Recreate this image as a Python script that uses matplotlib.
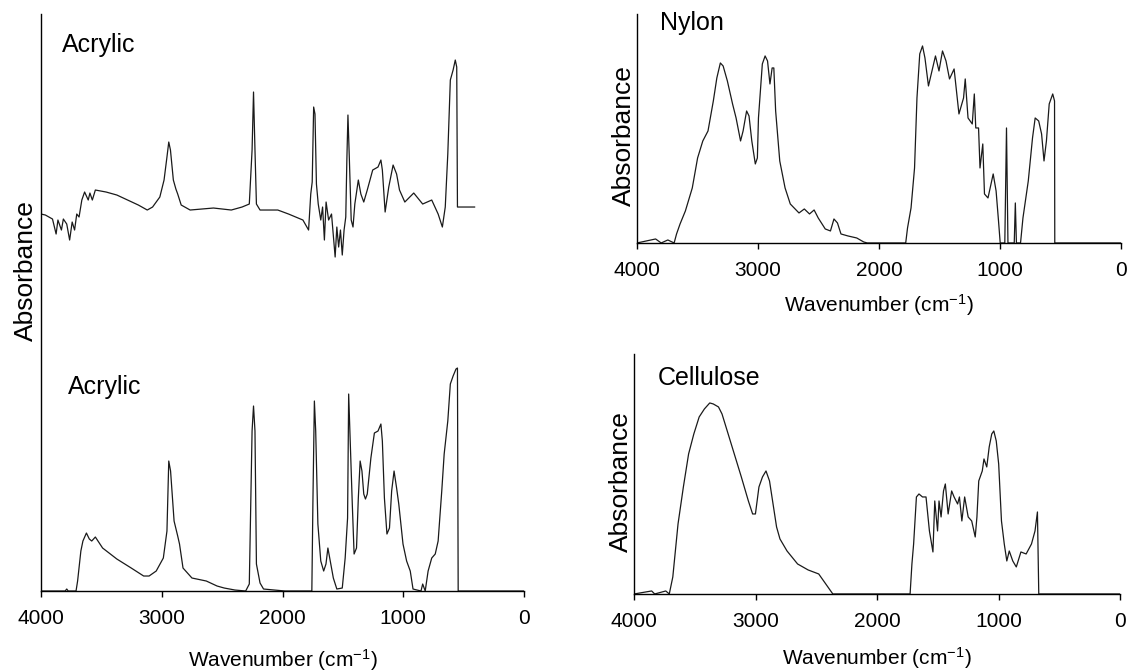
import matplotlib
matplotlib.use('Agg')
import matplotlib.pyplot as plt

plt.rcParams['font.family'] = ['Liberation Sans', 'DejaVu Sans']
plt.rcParams['mathtext.fontset'] = 'custom'
plt.rcParams['mathtext.rm'] = 'Liberation Sans'
plt.rcParams['mathtext.it'] = 'Liberation Sans:italic'

# Acrylic (upper trace, shown offset above the lower one) - absorbance in arbitrary units
acr1_wn = [4000, 3964, 3905, 3875, 3860, 3831, 3815, 3787, 3763, 3742, 3722, 3704, 3685,
           3662, 3639, 3609, 3595, 3575, 3550, 3461, 3372, 3283, 3194, 3120, 3076, 3016,
           2981, 2957, 2942, 2928, 2904, 2883, 2868, 2839, 2765, 2572, 2424, 2335, 2275,
           2252, 2240, 2228, 2216, 2186, 2039, 1950, 1831, 1784, 1766, 1754, 1742, 1731,
           1719, 1704, 1683, 1668, 1653, 1639, 1618, 1594, 1564, 1550, 1535, 1520, 1505,
           1490, 1476, 1467, 1458, 1446, 1431, 1416, 1401, 1372, 1351, 1327, 1298, 1253,
           1209, 1185, 1173, 1150, 1120, 1084, 1055, 1031, 987, 913, 839, 764, 711, 676,
           652, 631, 610, 587, 569, 557, 551, 409]
acr1_ab = [-7, -8, -12, -27, -13, -23, -12, -17, -33, -15, -23, -7, -10,
           7, 15, 7, 14, 7, 17, 15, 12, 7, 2, -3, 0, 10,
           27, 50, 65, 57, 27, 18, 13, 2, -3, -1, -3, 0, 3,
           57, 115, 57, 3, -3, -3, -7, -13, -23, 13, 25, 100, 93,
           23, 3, -13, 0, -33, 5, -13, -7, -50, -20, -40, -23, -48,
           -23, -10, 47, 92, 47, -13, -20, 3, 27, 13, 5, 17, 37,
           40, 47, 37, -5, 20, 42, 33, 17, 5, 14, 3, 7, -7, -20,
           0, 53, 127, 137, 147, 140, 0, 0]
acr1_offset = 384

# Acrylic (lower trace)
acr2_wn = [4000, 3800, 3787, 3775, 3710, 3697, 3670, 3653, 3624, 3600, 3580, 3550, 3490,
           3372, 3253, 3150, 3105, 3046, 2987, 2957, 2942, 2927, 2898, 2868, 2853, 2824,
           2750, 2631, 2542, 2483, 2394, 2305, 2275, 2252, 2240, 2228, 2216, 2186, 2157,
           1979, 1757, 1748, 1736, 1725, 1707, 1683, 1659, 1640, 1624, 1600, 1579, 1550,
           1505, 1481, 1461, 1452, 1440, 1422, 1407, 1387, 1372, 1357, 1342, 1327, 1313,
           1298, 1268, 1239, 1209, 1185, 1173, 1156, 1135, 1114, 1096, 1076, 1055, 1037,
           1002, 972, 942, 919, 853, 839, 818, 794, 764, 735, 711, 681, 661, 631, 610,
           587, 563, 551, 545, 0]
acr2_ab = [0, 0, 2, 0, 0, 10, 40, 50, 58, 52, 50, 54, 43,
           32, 23, 15, 15, 20, 33, 60, 130, 120, 70, 55, 47, 23,
           13, 10, 5, 3, 1, 0, 7, 160, 185, 160, 27, 8, 2,
           0, 0, 90, 190, 160, 67, 30, 20, 27, 43, 27, 13, 2,
           3, 33, 73, 197, 153, 87, 37, 43, 93, 130, 120, 97, 92,
           97, 133, 158, 160, 167, 150, 93, 57, 63, 100, 120, 103, 87,
           47, 30, 20, 2, 0, 7, 0, 20, 33, 37, 50, 100, 137, 170, 207,
           215, 222, 223, 0, 0]

# Nylon
nyl_wn = [4000, 3846, 3800, 3745, 3693, 3673, 3644, 3600, 3543, 3499, 3456, 3413, 3369,
          3340, 3311, 3288, 3253, 3210, 3181, 3144, 3123, 3094, 3074, 3051, 3022, 3005,
          2996, 2964, 2941, 2921, 2901, 2883, 2869, 2854, 2820, 2776, 2733, 2661, 2617,
          2574, 2536, 2502, 2444, 2401, 2372, 2343, 2314, 2256, 2184, 2126, 2097, 1779,
          1764, 1735, 1706, 1686, 1663, 1640, 1620, 1591, 1562, 1533, 1504, 1475, 1446,
          1417, 1379, 1339, 1301, 1287, 1264, 1229, 1212, 1200, 1177, 1165, 1142, 1128,
          1099, 1056, 1032, 1012, 998, 960, 946, 934, 882, 873, 864, 830, 810, 766, 731,
          709, 680, 656, 636, 616, 593, 564, 549, 547, 0]
nyl_ab = [0, 4, 0, 3, 0, 9, 19, 32, 55, 85, 102, 112, 142,
          165, 180, 177, 162, 139, 125, 102, 112, 132, 127, 102, 79, 85,
          125, 179, 187, 182, 159, 175, 175, 132, 82, 55, 39, 30, 34,
          29, 33, 25, 14, 12, 24, 20, 9, 7, 5, 1, 0, 0,
          15, 35, 75, 145, 189, 197, 185, 157, 172, 187, 172, 192, 182,
          164, 174, 129, 145, 164, 125, 119, 149, 115, 115, 75, 99, 49,
          45, 69, 52, 22, 0, 0, 115, 0, 0, 40, 0, 0, 25, 62, 105,
          125, 122, 109, 82, 102, 139, 149, 142, 0, 0]

# Cellulose
cel_wn = [4000, 3855, 3830, 3739, 3710, 3681, 3638, 3594, 3551, 3508, 3464, 3421, 3377,
          3348, 3305, 3276, 3233, 3175, 3117, 3059, 3024, 3001, 2972, 2943, 2914, 2885,
          2856, 2827, 2799, 2741, 2654, 2567, 2480, 2422, 2364, 1728, 1713, 1699, 1676,
          1655, 1626, 1597, 1569, 1540, 1525, 1502, 1490, 1473, 1453, 1438, 1415, 1386,
          1366, 1337, 1322, 1302, 1279, 1250, 1221, 1192, 1178, 1163, 1134, 1120, 1097,
          1077, 1056, 1039, 1019, 999, 976, 953, 932, 912, 883, 854, 816, 773, 729, 700,
          680, 669, 0]
cel_ab = [0, 3, 0, 3, 0, 17, 70, 107, 140, 160, 177, 185, 191,
          190, 187, 180, 163, 140, 117, 93, 80, 80, 107, 117, 123, 113,
          90, 67, 55, 43, 30, 24, 20, 10, 0, 0, 30, 50, 97,
          100, 97, 97, 63, 42, 93, 63, 93, 77, 103, 110, 80, 103,
          97, 90, 97, 73, 97, 77, 73, 57, 77, 113, 123, 135, 127,
          147, 160, 163, 153, 130, 73, 50, 33, 43, 33, 27, 42, 40, 50, 63,
          82, 0, 0]

xticks = [4000, 3000, 2000, 1000, 0]
xlabel = 'Wavenumber (cm$^{-1}$)'
line_kw = dict(color='#1a1a1a', lw=0.9)

fig = plt.figure(figsize=(11.3, 6.71), dpi=100)
ax_l = fig.add_axes([0.0363, 0.1192, 0.4274, 0.8599])
ax_n = fig.add_axes([0.5637, 0.6379, 0.4283, 0.3413])
ax_c = fig.add_axes([0.5611, 0.1148, 0.4301, 0.3577])


def style(ax, ymax):
    ax.set_xlim(4000, 0)
    ax.set_ylim(0, ymax)
    for s in ('top', 'right'):
        ax.spines[s].set_visible(False)
    ax.spines['left'].set_linewidth(1.0)
    ax.spines['bottom'].set_linewidth(1.0)
    ax.set_yticks([])
    ax.set_xticks(xticks)
    ax.set_xticklabels([str(t) for t in xticks])
    ax.tick_params(axis='x', direction='out', length=4, width=1.0, pad=9, labelsize=15)


# left panel: both acrylic traces in one frame
ax_l.plot(acr1_wn, [v + acr1_offset for v in acr1_ab], **line_kw)
ax_l.plot(acr2_wn, acr2_ab, **line_kw)
style(ax_l, 577)
ax_l.text(0.043, 0.946, 'Acrylic', transform=ax_l.transAxes, fontsize=18, va='center', ha='left')
ax_l.text(0.056, 0.354, 'Acrylic', transform=ax_l.transAxes, fontsize=18, va='center', ha='left')
ax_l.set_ylabel('Absorbance', fontsize=19, va='center')
ax_l.yaxis.set_label_coords(-0.031, 0.556)
ax_l.set_xlabel(xlabel, fontsize=15, va='center')
ax_l.xaxis.set_label_coords(0.5, -0.12)

ax_n.plot(nyl_wn, nyl_ab, **line_kw)
style(ax_n, 229)
ax_n.text(0.048, 0.96, 'Nylon', transform=ax_n.transAxes, fontsize=18, va='center', ha='left')
ax_n.set_ylabel('Absorbance', fontsize=19, va='center')
ax_n.yaxis.set_label_coords(-0.027, 0.47)
ax_n.set_xlabel(xlabel, fontsize=15, va='center')
ax_n.xaxis.set_label_coords(0.5, -0.27)

ax_c.plot(cel_wn, cel_ab, **line_kw)
style(ax_c, 240)
ax_c.text(0.049, 0.90, 'Cellulose', transform=ax_c.transAxes, fontsize=18, va='center', ha='left')
ax_c.set_ylabel('Absorbance', fontsize=19, va='center')
ax_c.yaxis.set_label_coords(-0.027, 0.467)
ax_c.set_xlabel(xlabel, fontsize=15, va='center')
ax_c.xaxis.set_label_coords(0.5, -0.267)

fig.savefig('out.png', dpi=100)
